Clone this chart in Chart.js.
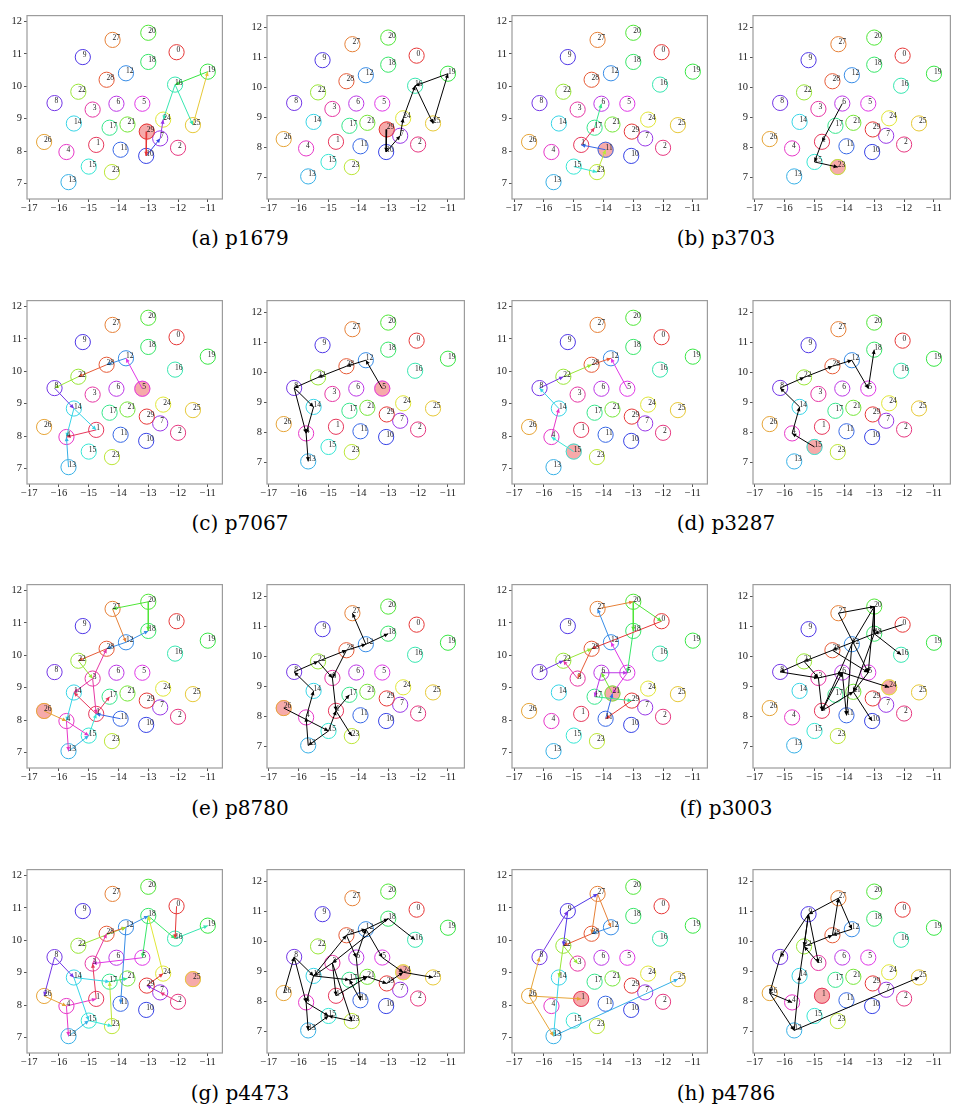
<!DOCTYPE html>
<html><head><meta charset="utf-8">
<script src="https://cdn.jsdelivr.net/npm/chart.js@4.4.0/dist/chart.umd.min.js"></script>
<style>
html,body{margin:0;padding:0;background:#fff;width:957px;height:1113px;overflow:hidden;position:relative;}
canvas{position:absolute;}
.cap{position:absolute;font-family:"DejaVu Serif",serif;font-size:20px;color:#000;white-space:nowrap;transform:translate(-50%,-50%);}
</style></head><body>
<script>
// ---- data ----
const nodeX=[-12.05,-14.75,-12.0,-14.87,-15.75,-13.2,-14.07,-12.6,-16.15,-15.2,-13.07,-13.93,-13.75,-15.68,-15.5,-15.0,-12.1,-14.3,-13.0,-11.0,-13.0,-13.7,-15.35,-14.22,-12.5,-11.5,-16.5,-14.2,-14.4,-13.05];
const nodeY=[11.05,8.19,8.1,9.28,7.97,9.46,9.46,8.39,9.48,10.9,7.85,8.04,10.4,7.04,8.85,7.52,10.05,8.72,10.75,10.45,11.65,8.82,9.83,7.35,8.97,8.8,8.28,11.43,10.2,8.6];
const nodeLabels=["0","1","2","3","4","5","6","7","8","9","10","11","12","13","14","15","16","17","18","19","20","21","22","23","24","25","26","27","28","29"];
const xTicks=[-17,-16,-15,-14,-13,-12,-11];
const yTicks=[7,8,9,10,11,12];
const xTickLabels=["−17","−16","−15","−14","−13","−12","−11"];
const xTickLabelsF2=["−17","−15","−15","−14","−13","−12","−11"];
const yTickLabels=["7","8","9","10","11","12"];
const captions=["(a) p1679","(b) p3703","(c) p7067","(d) p3287","(e) p8780","(f) p3003","(g) p4473","(h) p4786"];
const highlights=[29,29,11,23,5,5,15,15,26,26,21,24,25,24,1,1];

const edgesA1=[[29,10],[10,7],[7,24],[16,24],[16,25],[25,19],[19,16]];
const edgesA2=[[29,10],[10,7],[7,24],[24,16],[16,25],[25,19],[19,16]];
const edgesB1=[[15,23],[23,11],[11,1],[1,17],[17,6]];
const edgesB2=[[6,1],[1,15],[15,23]];
const edgesC1=[[5,12],[12,28],[28,22],[22,8],[8,14],[14,1],[1,4],[14,4],[13,4]];
const edgesC2=[[5,12],[12,28],[28,22],[22,8],[8,14],[14,4],[8,4],[4,13]];
const edgesD1=[[15,4],[4,14],[14,8],[8,22],[22,28],[28,12],[5,12]];
const edgesD2=[[15,4],[4,14],[14,8],[8,22],[22,28],[28,12],[12,5],[5,18]];
const edgesE1=[[26,4],[4,15],[4,13],[14,4],[13,15],[15,1],[11,1],[1,17],[3,1],[1,14],[3,14],[3,28],[22,3],[28,22],[12,28],[12,18],[20,18],[20,27],[27,12]];
const edgesE2=[[26,15],[15,13],[13,4],[4,14],[14,8],[8,22],[22,28],[28,12],[12,18],[12,27],[22,3],[28,3],[3,1],[1,17],[1,23],[15,1]];
const edgesF1=[[27,20],[20,0],[20,18],[0,28],[12,27],[5,12],[18,5],[6,5],[5,21],[21,6],[6,17],[17,29],[29,11],[11,21],[22,28],[28,3],[3,22],[8,22]];
const edgesF2=[[27,20],[27,5],[20,12],[20,18],[20,5],[0,18],[18,28],[28,22],[22,8],[18,16],[12,11],[12,1],[28,5],[22,3],[8,3],[3,6],[6,24],[3,1],[1,6],[1,21],[6,11],[21,10],[5,21],[18,21]];
const edgesG1=[[8,26],[26,4],[8,14],[14,17],[17,21],[14,15],[4,13],[13,15],[15,23],[23,17],[4,1],[1,3],[3,28],[28,12],[22,12],[12,11],[12,18],[18,16],[16,19],[0,16],[18,5],[5,3],[24,18],[29,24],[7,29],[2,7]];
const edgesG2=[[26,8],[8,14],[14,4],[8,4],[4,13],[13,15],[4,15],[14,17],[17,21],[21,29],[29,24],[24,25],[14,28],[28,12],[12,18],[18,16],[18,3],[3,1],[1,21],[12,5],[5,24],[6,12],[3,23],[23,15],[28,6],[6,11],[11,17],[3,14]];
const edgesH1=[[26,8],[8,9],[9,27],[27,28],[27,12],[12,28],[28,22],[22,14],[14,13],[13,25],[26,1],[22,3],[9,22],[26,13]];
const edgesH2=[[27,9],[9,8],[8,26],[26,4],[26,13],[13,25],[13,14],[14,9],[9,3],[3,22],[22,28],[28,27],[27,12],[12,28],[9,22]];
const panelEdges=[edgesA1,edgesA2,edgesB1,edgesB2,edgesC1,edgesC2,edgesD1,edgesD2,edgesE1,edgesE2,edgesF1,edgesF2,edgesG1,edgesG2,edgesH1,edgesH2];

// ---- layout / style ----
const colLeft=[27,267,512,753], colRight=[228,470,713,956];
const rowTop=[13,298,582,867], plotH=186;
const capX=[240,726], capY=[238,523,808,1093];
const rangeL={xmin:-17.075,xmax:-10.51,ymin:6.52,ymax:12.18};
const rangeR={xmin:-17.06,xmax:-10.45,ymin:6.29,ymax:12.38};
function nodeColor(i){const h=360*(1-i/29);return `hsl(${h},78%,56%)`;}

const deco={id:'deco',afterDatasetsDraw(chart){
  const ctx=chart.ctx,xs=chart.scales.x,ys=chart.scales.y;
  ctx.save();
  chart.data.datasets.forEach((ds,i)=>{
    if(!ds.arrow)return;
    const m=chart.getDatasetMeta(i);const p0=m.data[0],p1=m.data[1];
    const ang=Math.atan2(p1.y-p0.y,p1.x-p0.x),L=4.2,Wd=2;
    ctx.fillStyle=ds.borderColor;ctx.beginPath();
    ctx.moveTo(p1.x,p1.y);
    ctx.lineTo(p1.x-L*Math.cos(ang)+Wd*Math.sin(ang),p1.y-L*Math.sin(ang)-Wd*Math.cos(ang));
    ctx.lineTo(p1.x-L*Math.cos(ang)-Wd*Math.sin(ang),p1.y-L*Math.sin(ang)+Wd*Math.cos(ang));
    ctx.closePath();ctx.fill();
  });
  ctx.font='7.5px "Liberation Serif"';ctx.fillStyle='#222';ctx.textAlign='left';ctx.textBaseline='alphabetic';
  nodeX.forEach((x,i)=>ctx.fillText(nodeLabels[i],xs.getPixelForValue(x),ys.getPixelForValue(nodeY[i])));
  const a=chart.chartArea;ctx.strokeStyle='#9c9c9c';ctx.lineWidth=1.2;
  ctx.strokeRect(a.left,a.top,a.right-a.left,a.bottom-a.top);
  ctx.restore();
}};

function makePanel(idx){
  const row=Math.floor(idx/4),col=idx%4,isRight=col%2===1;
  const rg=isRight?rangeR:rangeL;
  const L=colLeft[col]-30,T=rowTop[row]-6;
  const W=colRight[col]-L+3,H=rowTop[row]+plotH-T+22;
  const cv=document.createElement('canvas');
  cv.width=W;cv.height=H;cv.style.left=L+'px';cv.style.top=T+'px';cv.style.width=W+'px';cv.style.height=H+'px';
  document.body.appendChild(cv);
  const ds=[];
  panelEdges[idx].forEach(([a,b])=>{
    const c=isRight?'#000':nodeColor(a);
    ds.push({data:[{x:nodeX[a],y:nodeY[a]},{x:nodeX[b],y:nodeY[b]}],showLine:true,borderColor:c,borderWidth:1,pointRadius:0,order:0,arrow:true});
  });
  const h=highlights[idx];
  ds.push({data:[{x:nodeX[h],y:nodeY[h]}],pointRadius:8,backgroundColor:'rgba(238,85,85,0.5)',borderWidth:0,order:3});
  ds.push({data:nodeX.map((x,i)=>({x,y:nodeY[i]})),pointRadius:7.6,pointBorderColor:nodeX.map((_,i)=>nodeColor(i)),pointBackgroundColor:'rgba(0,0,0,0)',pointBorderWidth:1,order:2});
  const xl=(idx===11)?xTickLabelsF2:xTickLabels;
  new Chart(cv,{type:'scatter',data:{datasets:ds},plugins:[deco],
    options:{responsive:false,animation:false,devicePixelRatio:1,events:[],
      layout:{padding:{left:0,top:6,right:3,bottom:0}},
      plugins:{legend:{display:false},tooltip:{enabled:false}},
      scales:{
        x:{type:'linear',min:rg.xmin,max:rg.xmax,
          afterBuildTicks:s=>{s.ticks=xTicks.map(v=>({value:v}));},
          afterFit:s=>{s.height=22;},
          ticks:{callback:(v,i)=>xl[i],font:{family:'Liberation Serif',size:10.5},color:'#222',padding:0,maxRotation:0,autoSkip:false},
          grid:{display:true,drawOnChartArea:false,drawTicks:true,tickLength:3,color:'#555'},border:{display:false}},
        y:{type:'linear',min:rg.ymin,max:rg.ymax,
          afterBuildTicks:s=>{s.ticks=yTicks.map(v=>({value:v}));},
          afterFit:s=>{s.width=30;},
          ticks:{callback:(v,i)=>yTickLabels[i],font:{family:'Liberation Serif',size:10.5},color:'#222',padding:2,autoSkip:false},
          grid:{display:true,drawOnChartArea:false,drawTicks:true,tickLength:3,color:'#555'},border:{display:false}}
      }}});
}
for(let i=0;i<16;i++)makePanel(i);
captions.forEach((t,i)=>{const d=document.createElement('div');d.className='cap';d.textContent=t;d.style.left=capX[i%2]+'px';d.style.top=capY[Math.floor(i/2)]+'px';document.body.appendChild(d);});
</script>
</body></html>
